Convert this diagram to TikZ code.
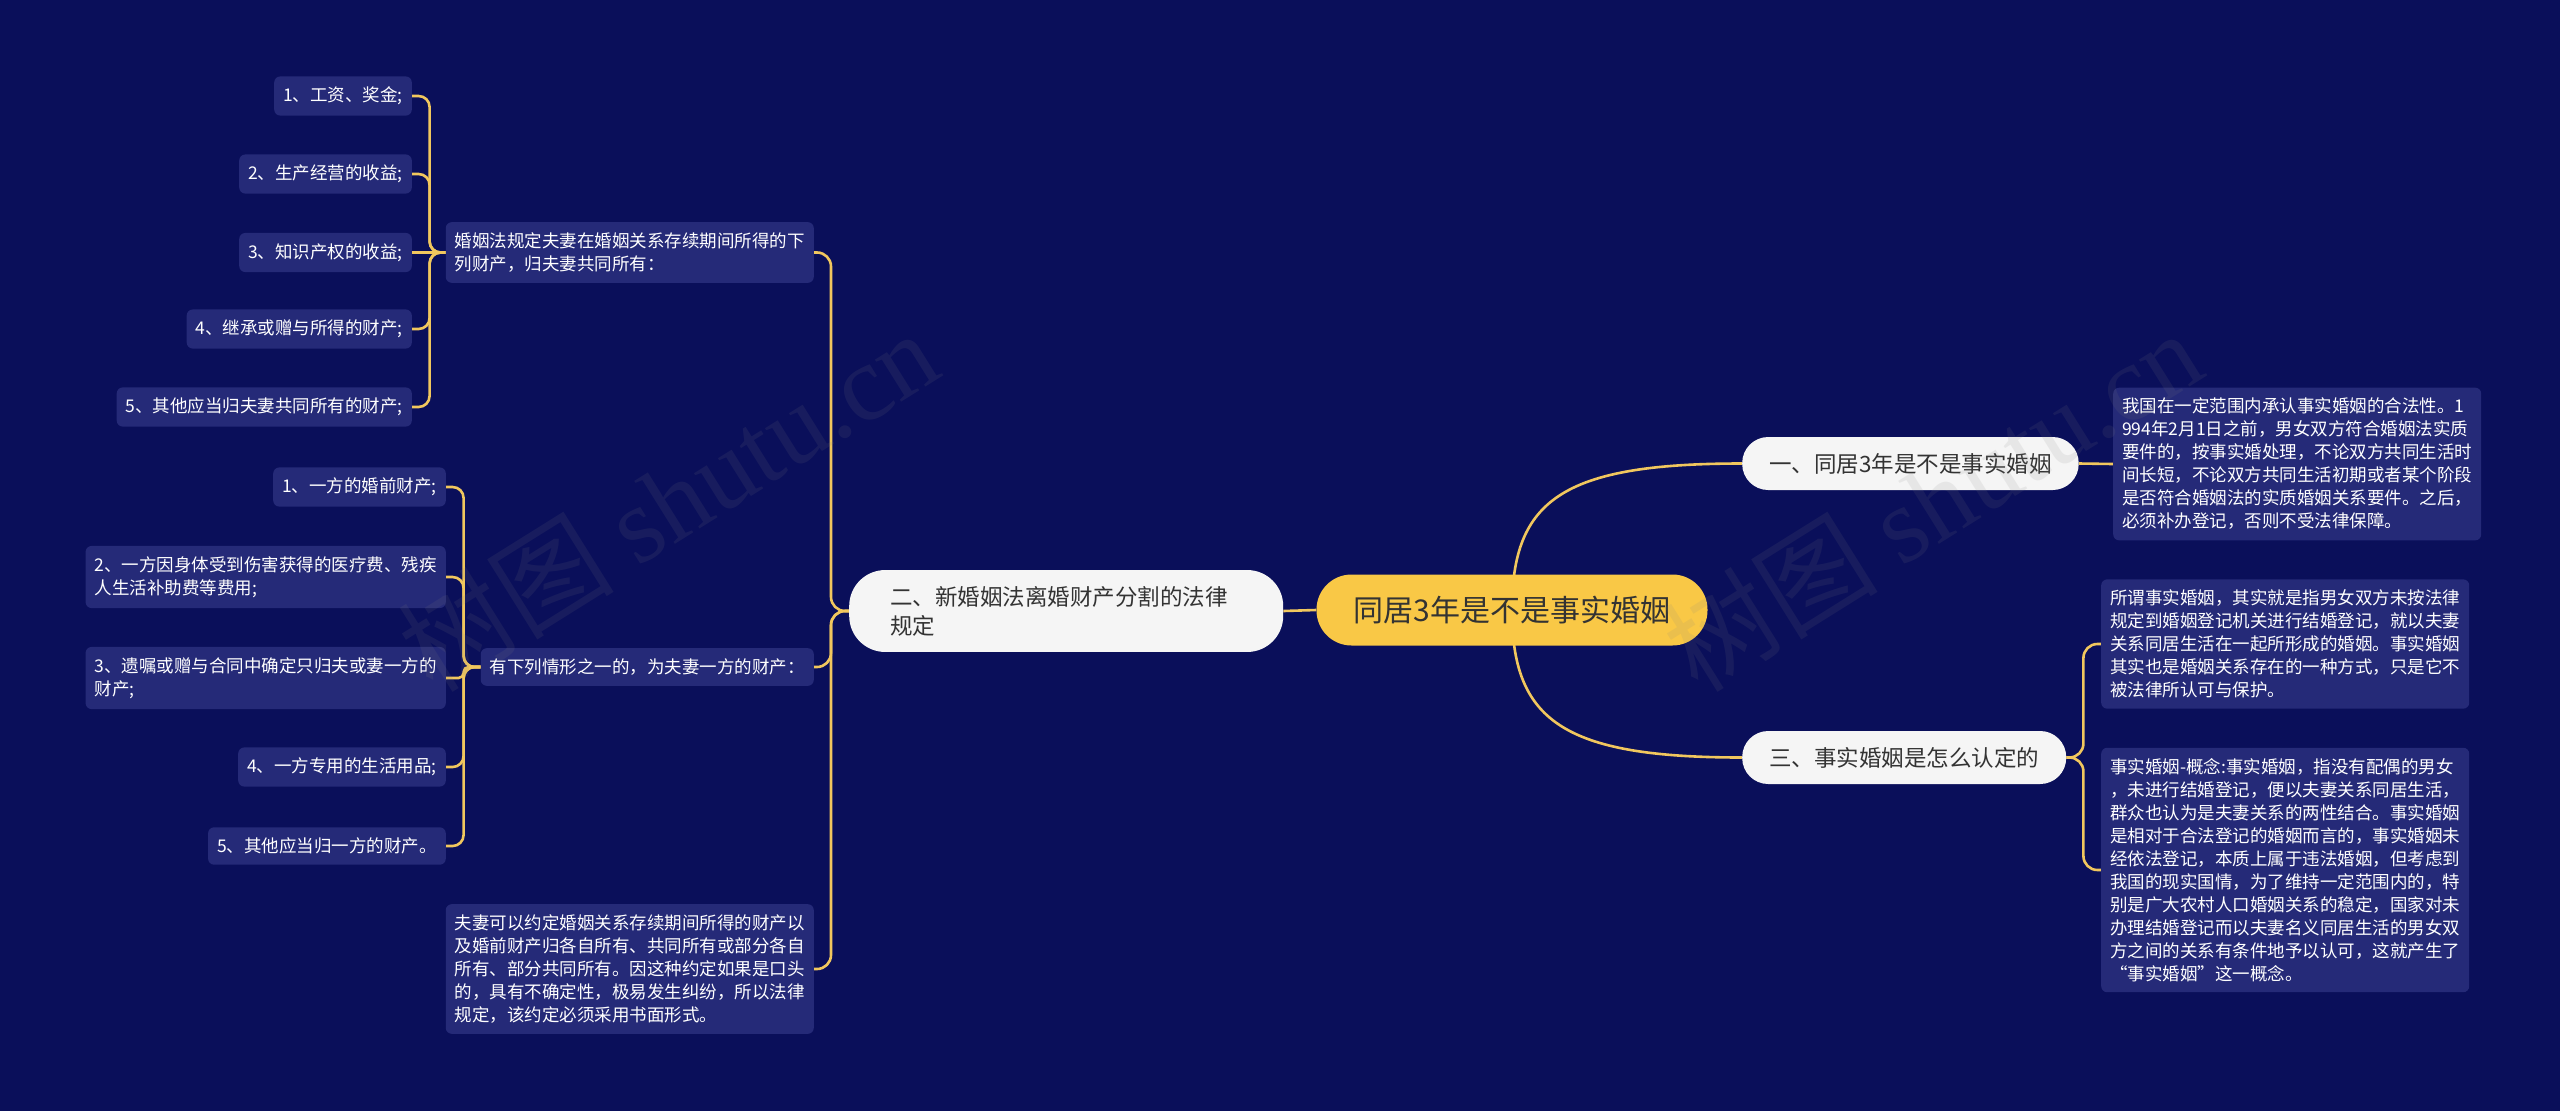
\documentclass[tikz,border=0pt]{standalone}
\usepackage{fontspec}
\setmainfont{Noto Sans CJK SC}
\newfontfamily\wmlatin{Liberation Serif}
\usetikzlibrary{backgrounds}

\definecolor{bgnavy}{RGB}{10,15,90}
\definecolor{leafblue}{RGB}{37,42,120}
\definecolor{linegold}{RGB}{241,199,94}
\definecolor{rootgold}{RGB}{249,200,70}
\definecolor{branchwhite}{RGB}{245,245,245}
\definecolor{darktext}{RGB}{51,51,51}

\newcommand{\leafsize}{\fontsize{17.5}{23}\selectfont}
\newcommand{\branchsize}{\fontsize{22.5}{29}\selectfont}

\begin{document}
\begin{tikzpicture}[x=1pt,y=-1pt]
		\tikzset{
			leaf/.style={fill=leafblue, text=white, rounded corners=6pt, inner xsep=9pt, inner ysep=10.5pt, align=left, font=\leafsize},
			branch/.style={fill=branchwhite, text=darktext, rounded corners=26pt, inner xsep=27pt, minimum height=53pt, font=\branchsize},
			link/.style={draw=linegold, line width=2.6pt},
			bus/.style={link, rounded corners=14pt},
			twig/.style={link, rounded corners=11pt},
			wm/.style={text=gray, text opacity=0.12, font=\fontsize{108}{108}\selectfont}
		}
		\useasboundingbox (0,0) rectangle (2560,1111);
		
		% centre
		\node[fill=rootgold, text=darktext, rounded corners=35pt, minimum width=391pt, minimum height=71pt, font=\fontsize{30}{36}\selectfont] (root) at (1512,610) {同居3年是不是事实婚姻};
		
		% right side
		\node[branch, anchor=west] (one) at (1742,463.5) {一、同居3年是不是事实婚姻};
		\node[branch, anchor=west] (three) at (1742,757.5) {三、事实婚姻是怎么认定的};
		
		\node[leaf, anchor=west] (oneA) at (2113,464) {我国在一定范围内承认事实婚姻的合法性。1\\994年2月1日之前，男女双方符合婚姻法实质\\要件的，按事实婚处理，不论双方共同生活时\\间长短，不论双方共同生活初期或者某个阶段\\是否符合婚姻法的实质婚姻关系要件。之后，\\必须补办登记，否则不受法律保障。};
		\node[leaf, anchor=west] (threeA) at (2101,644) {所谓事实婚姻，其实就是指男女双方未按法律\\规定到婚姻登记机关进行结婚登记，就以夫妻\\关系同居生活在一起所形成的婚姻。事实婚姻\\其实也是婚姻关系存在的一种方式，只是它不\\被法律所认可与保护。};
		\node[leaf, anchor=west] (threeB) at (2101,870) {事实婚姻-概念:事实婚姻，指没有配偶的男女\\，未进行结婚登记，便以夫妻关系同居生活，\\群众也认为是夫妻关系的两性结合。事实婚姻\\是相对于合法登记的婚姻而言的，事实婚姻未\\经依法登记，本质上属于违法婚姻，但考虑到\\我国的现实国情，为了维持一定范围内的，特\\别是广大农村人口婚姻关系的稳定，国家对未\\办理结婚登记而以夫妻名义同居生活的男女双\\方之间的关系有条件地予以认可，这就产生了\\“事实婚姻”这一概念。};
		
		% left side
		\node[branch, anchor=west, align=left, text width=352pt, inner xsep=41pt, inner ysep=16pt, rounded corners=36pt] (two) at (849,611) {二、新婚姻法离婚财产分割的法律\\规定};
		
		\node[leaf, anchor=east] (twoA) at (814,252.5) {婚姻法规定夫妻在婚姻关系存续期间所得的下\\列财产，归夫妻共同所有：};
		\node[leaf, anchor=east] (twoB) at (814,667) {有下列情形之一的，为夫妻一方的财产：};
		\node[leaf, anchor=east] (twoC) at (814,969) {夫妻可以约定婚姻关系存续期间所得的财产以\\及婚前财产归各自所有、共同所有或部分各自\\所有、部分共同所有。因这种约定如果是口头\\的，具有不确定性，极易发生纠纷，所以法律\\规定，该约定必须采用书面形式。};
		
		\node[leaf, anchor=east] (twoAa) at (412,96) {1、工资、奖金;};
		\node[leaf, anchor=east] (twoAb) at (412,174) {2、生产经营的收益;};
		\node[leaf, anchor=east] (twoAc) at (412,252.5) {3、知识产权的收益;};
		\node[leaf, anchor=east] (twoAd) at (412,329) {4、继承或赠与所得的财产;};
		\node[leaf, anchor=east] (twoAe) at (412,407) {5、其他应当归夫妻共同所有的财产;};
		
		\node[leaf, anchor=east] (twoBa) at (446,487) {1、一方的婚前财产;};
		\node[leaf, anchor=east] (twoBb) at (446,577) {2、一方因身体受到伤害获得的医疗费、残疾\\人生活补助费等费用;};
		\node[leaf, anchor=east] (twoBc) at (446,678) {3、遗嘱或赠与合同中确定只归夫或妻一方的\\财产;};
		\node[leaf, anchor=east] (twoBd) at (446,767) {4、一方专用的生活用品;};
		\node[leaf, anchor=east] (twoBe) at (446,846) {5、其他应当归一方的财产。};
		
		% connectors
		\begin{pgfonlayer}{background}
			\fill[bgnavy] (0,0) rectangle (2560,1111);
			\draw[link] (root.center) .. controls +(0,-110) and +(-180,0) .. (one.west);
			\draw[link] (root.center) .. controls +(0,110) and +(-180,0) .. (three.west);
			\draw[link] (root.west) -- (two.east);
			\draw[link] (one.east) -- (oneA.west);
			\draw[bus] (three.east) -- ++(17,0) |- (threeA.west);
			\draw[bus] (three.east) -- ++(17,0) |- (threeB.west);
			\draw[bus] (two.west) -- ++(-18,0) |- (twoA.east);
			\draw[bus] (two.west) -- ++(-18,0) |- (twoB.east);
			\draw[bus] (two.west) -- ++(-18,0) |- (twoC.east);
			\draw[twig] (twoA.west) -- ++(-16,0) |- (twoAa.east);
			\draw[twig] (twoA.west) -- ++(-16,0) |- (twoAb.east);
			\draw[link] (twoA.west) -- (twoAc.east);
			\draw[twig] (twoA.west) -- ++(-16,0) |- (twoAd.east);
			\draw[twig] (twoA.west) -- ++(-16,0) |- (twoAe.east);
			\draw[twig] (twoB.west) -- ++(-17,0) |- (twoBa.east);
			\draw[twig] (twoB.west) -- ++(-17,0) |- (twoBb.east);
			\draw[link, rounded corners=5pt] (twoB.west) -- ++(-17,0) |- (twoBc.east);
			\draw[twig] (twoB.west) -- ++(-17,0) |- (twoBd.east);
			\draw[twig] (twoB.west) -- ++(-17,0) |- (twoBe.east);
		\end{pgfonlayer}
		
		% watermark
		\node[wm, rotate=32] (wmLeft) at (668,500) {树图 {\wmlatin shutu.cn}};
		\node[wm, rotate=32] (wmRight) at (1932,500) {树图 {\wmlatin shutu.cn}};
\end{tikzpicture}
\end{document}
